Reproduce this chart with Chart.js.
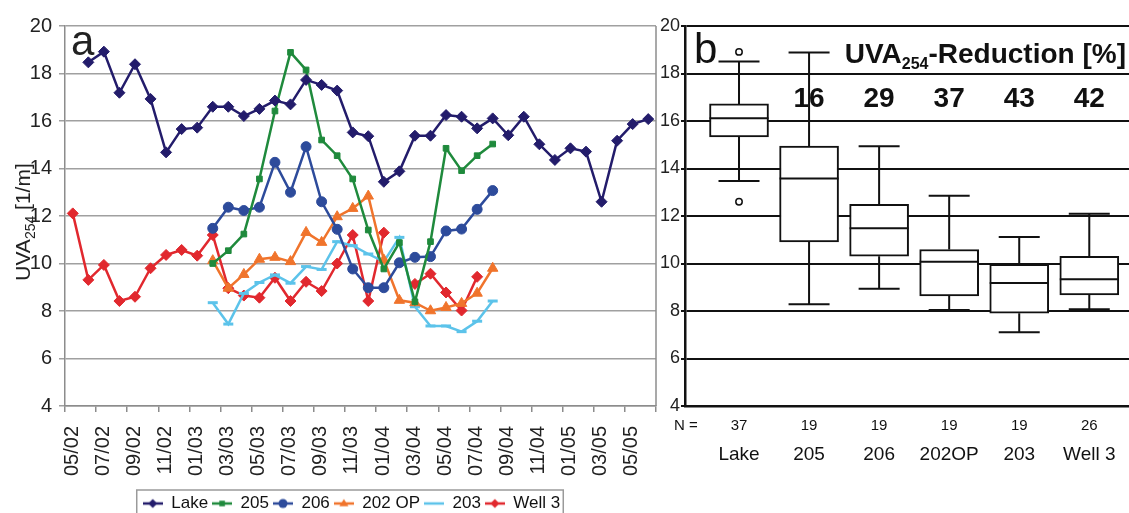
<!DOCTYPE html>
<html>
<head>
<meta charset="utf-8">
<script src="https://cdn.jsdelivr.net/npm/chart.js@4/dist/chart.umd.min.js"></script>
<style>
	html, body { margin: 0; padding: 0; background: #fff; }
	body { width: 1129px; height: 513px; overflow: hidden; position: relative; font-family: 'Liberation Sans', Arial, sans-serif; }
	#timeline { position: absolute; left: 0; top: 0; }
	#boxes { position: absolute; left: 655px; top: 0; }
</style>
</head>
<body>
<canvas id="timeline" width="664" height="522"></canvas>
<canvas id="boxes" width="474" height="513"></canvas>
<script>
// sampling months, index 0 = 05/02
const months = [
	'05/02', '06/02', '07/02', '08/02', '09/02', '10/02', '11/02', '12/02',
	'01/03', '02/03', '03/03', '04/03', '05/03', '06/03', '07/03', '08/03', '09/03', '10/03', '11/03', '12/03',
	'01/04', '02/04', '03/04', '04/04', '05/04', '06/04', '07/04', '08/04', '09/04', '10/04', '11/04', '12/04',
	'01/05', '02/05', '03/05', '04/05', '05/05', '06/05'
];
const tickLabels = ['05/02', '07/02', '09/02', '11/02', '01/03', '03/03', '05/03', '07/03', '09/03', '11/03',
	'01/04', '03/04', '05/04', '07/04', '09/04', '11/04', '01/05', '03/05', '05/05'];

const _ = null;
const lake = [_, 18.47, 18.92, 17.19, 18.39, 16.93, 14.68, 15.66, 15.72, 16.60, 16.60, 16.21, 16.51, 16.86, 16.70, 17.73, 17.52, 17.28, 15.52, 15.36,
	13.44, 13.88, 15.38, 15.38, 16.25, 16.18, 15.69, 16.11, 15.40, 16.18, 15.02, 14.36, 14.85, 14.71, 12.60, 15.17, 15.87, 16.08];
const well205 = [_, _, _, _, _, _, _, _, _, 10.00, 10.54, 11.24, 13.56, 16.42, 18.89, 18.15, 15.20, 14.54, 13.56, 11.41,
	9.77, 10.88, 8.39, 10.92, 14.85, 13.91, 14.54, 15.03];
const well206 = [_, _, _, _, _, _, _, _, _, 11.48, 12.37, 12.23, 12.37, 14.26, 13.00, 14.92, 12.60, 11.44, 9.77, 8.98,
	8.98, 10.03, 10.26, 10.29, 11.37, 11.45, 12.28, 13.07];
const well202op = [_, _, _, _, _, _, _, _, _, 10.12, 8.96, 9.54, 10.18, 10.26, 10.08, 11.31, 10.89, 11.97, 12.32, 12.84,
	10.15, 8.45, 8.35, 8.01, 8.15, 8.32, 8.75, 9.80];
const well203 = [_, _, _, _, _, _, _, _, _, 8.35, 7.45, 8.74, 9.20, 9.52, 9.17, 9.87, 9.75, 10.92, 10.75, 10.40,
	10.08, 11.10, 8.18, 7.37, 7.37, 7.13, 7.57, 8.42];
const well3 = [12.11, 9.31, 9.94, 8.42, 8.60, 9.80, 10.36, 10.57, 10.33, 11.20, 8.96, 8.65, 8.56, 9.40, 8.42, 9.23, 8.84, 10.00, 11.20, 8.42,
	11.30, _, 9.14, 9.57, 8.78, 8.02, 9.44];

// box plot statistics per site
const sites = ['Lake', '205', '206', '202OP', '203', 'Well 3'];
const sampleCounts = [37, 19, 19, 19, 19, 26];
const reduction = [null, 16, 29, 37, 43, 42];
const boxMin = [13.47, 8.28, 8.94, 8.04, 7.11, 8.07];
const boxQ1 = [15.33, 10.91, 10.31, 8.63, 7.91, 8.68];
const boxMedian = [16.12, 13.58, 11.48, 10.07, 9.18, 9.34];
const boxQ3 = [16.72, 14.94, 12.49, 10.59, 9.96, 10.30];
const boxMax = [18.51, 18.88, 14.94, 12.85, 11.12, 12.09];
const outliers = [[18.91, 12.60], [], [], [], [], []];

const FONT = "'Liberation Sans', Arial, sans-serif";

const series = [
	{ label: 'Lake', values: lake, color: '#231c6b', style: 'rectRot', radius: 5.5 },
	{ label: '205', values: well205, color: '#1f8a3c', style: 'rect', radius: 4 },
	{ label: '206', values: well206, color: '#2d4b9b', style: 'circle', radius: 5 },
	{ label: '202 OP', values: well202op, color: '#f0742c', style: 'triangle', radius: 6 },
	{ label: '203', values: well203, color: '#5cc3ea', style: 'line', radius: 5 },
	{ label: 'Well 3', values: well3, color: '#e1282e', style: 'rectRot', radius: 5.5 }
];

function drawMarker(g, style, x, y, r, color) {
	g.fillStyle = color;
	g.strokeStyle = color;
	g.beginPath();
	if (style === 'rectRot') {
		g.moveTo(x, y - r); g.lineTo(x + r, y); g.lineTo(x, y + r); g.lineTo(x - r, y);
	} else if (style === 'rect') {
		g.rect(x - r * 0.8, y - r * 0.8, r * 1.6, r * 1.6);
	} else if (style === 'circle') {
		g.arc(x, y, r, 0, Math.PI * 2);
	} else if (style === 'triangle') {
		g.moveTo(x, y - r); g.lineTo(x + r, y + r * 0.6); g.lineTo(x - r, y + r * 0.6);
	}
	g.closePath();
	g.fill();
}

function legendIcon(s) {
	const c = document.createElement('canvas');
	c.width = 20;
	c.height = 14;
	const g = c.getContext('2d');
	g.strokeStyle = s.color;
	g.lineWidth = 2.5;
	g.beginPath();
	g.moveTo(0, 7);
	g.lineTo(20, 7);
	g.stroke();
	drawMarker(g, s.style, 10, 7, s.style === 'rect' ? 3.5 : 4.5, s.color);
	return c;
}

// text with a lowered, smaller run for subscripts
function drawRich(ctx, parts, x, y, align) {
	let w = 0;
	parts.forEach(p => { ctx.font = p.font; w += ctx.measureText(p.text).width; });
	let cx = align === 'right' ? x - w : align === 'center' ? x - w / 2 : x;
	parts.forEach(p => {
		ctx.font = p.font;
		ctx.fillText(p.text, cx, y + (p.dy || 0));
		cx += ctx.measureText(p.text).width;
	});
}

const timelineDecor = {
	id: 'timelineDecor',
	afterLayout(chart) {
		// legend sits a little right of the canvas centre
		chart.legend.left += 10;
		chart.legend.right += 10;
	},
	afterDraw(chart) {
		const { ctx, chartArea } = chart;
		ctx.save();
		ctx.strokeStyle = '#8c8c8c';
		ctx.lineWidth = 1.5;
		ctx.beginPath();
		ctx.moveTo(chartArea.right, chartArea.top);
		ctx.lineTo(chartArea.right, chartArea.bottom);
		ctx.stroke();

		// legend frame
		const boxes = chart.legend.legendHitBoxes;
		const left = Math.min(...boxes.map(b => b.left)) - 6;
		const right = Math.max(...boxes.map(b => b.left + b.width)) + 3;
		const top = boxes[0].top - 5;
		ctx.strokeStyle = '#9a9a9a';
		ctx.lineWidth = 1.5;
		ctx.strokeRect(left, top, right - left, 60);

		ctx.fillStyle = '#222';
		ctx.textBaseline = 'alphabetic';
		ctx.font = '42px ' + FONT;
		ctx.fillText('a', 71, 55);

		ctx.translate(21.5, 222);
		ctx.rotate(-Math.PI / 2);
		drawRich(ctx, [
			{ text: 'UVA', font: '21px ' + FONT },
			{ text: '254', font: '14px ' + FONT, dy: 5 },
			{ text: ' [1/m]', font: '21px ' + FONT }
		], 0, 8, 'center');
		ctx.restore();
	}
};

new Chart(document.getElementById('timeline'), {
	type: 'line',
	data: {
		datasets: series.map(s => ({
			label: s.label,
			data: s.values.map((v, i) => ({ x: i + 0.5, y: v })),
			borderColor: s.color,
			backgroundColor: s.color,
			borderWidth: 2.5,
			pointStyle: s.style,
			pointRadius: s.radius,
			pointBorderWidth: s.style === 'line' ? 3 : 1,
			tension: 0,
			spanGaps: false
		}))
	},
	options: {
		responsive: false,
		animation: false,
		layout: { padding: { top: 26, left: 20, right: 1, bottom: 0 } },
		scales: {
			x: {
				type: 'linear',
				min: 0,
				max: 38,
				afterFit: s => {
					s.height = 85;
					s.paddingLeft = 0;
					s.paddingRight = 0;
				},
				grid: { drawOnChartArea: false, color: '#8c8c8c', lineWidth: 1.5, tickLength: 6 },
				border: { color: '#8c8c8c', width: 1.5 },
				ticks: {
					stepSize: 2,
					autoSkip: false,
					minRotation: 90,
					maxRotation: 90,
					padding: 14,
					labelOffset: 7,
					color: '#222',
					font: { family: FONT, size: 20 },
					callback: v => tickLabels[v / 2] || ''
				}
			},
			y: {
				min: 4,
				max: 20,
				afterFit: s => { s.width = 45; },
				grid: { color: '#a0a0a0', lineWidth: 1.5, tickLength: 6 },
				border: { color: '#8c8c8c', width: 1.5 },
				ticks: { stepSize: 2, padding: 7, color: '#222', font: { family: FONT, size: 20 } }
			}
		},
		plugins: {
			tooltip: { enabled: false },
			legend: {
				position: 'bottom',
				labels: {
					usePointStyle: true,
					pointStyleWidth: 20,
					boxHeight: 14,
					padding: 4,
					color: '#111',
					font: { family: FONT, size: 17 },
					generateLabels: chart => chart.data.datasets.map((ds, i) => ({
						text: ds.label,
						pointStyle: legendIcon(series[i]),
						fillStyle: ds.borderColor,
						strokeStyle: ds.borderColor,
						lineWidth: 0,
						hidden: false,
						datasetIndex: i,
						fontColor: '#111'
					}))
				}
			}
		}
	},
	plugins: [timelineDecor]
});

const boxDecor = {
	id: 'boxDecor',
	afterDatasetsDraw(chart) {
		const { ctx, scales: { x, y } } = chart;
		ctx.save();
		ctx.strokeStyle = '#111';
		ctx.lineWidth = 2;
		sites.forEach((site, i) => {
			const cx = x.getPixelForValue(i);
			const half = 29.5;
			const cap = 20.5;
			ctx.beginPath();
			ctx.moveTo(cx, y.getPixelForValue(boxQ3[i]));
			ctx.lineTo(cx, y.getPixelForValue(boxMax[i]));
			ctx.moveTo(cx, y.getPixelForValue(boxQ1[i]));
			ctx.lineTo(cx, y.getPixelForValue(boxMin[i]));
			ctx.moveTo(cx - cap, y.getPixelForValue(boxMax[i]));
			ctx.lineTo(cx + cap, y.getPixelForValue(boxMax[i]));
			ctx.moveTo(cx - cap, y.getPixelForValue(boxMin[i]));
			ctx.lineTo(cx + cap, y.getPixelForValue(boxMin[i]));
			ctx.moveTo(cx - half, y.getPixelForValue(boxMedian[i]));
			ctx.lineTo(cx + half, y.getPixelForValue(boxMedian[i]));
			ctx.stroke();
			outliers[i].forEach(v => {
				ctx.beginPath();
				ctx.lineWidth = 1.5;
				ctx.fillStyle = '#fff';
				ctx.arc(cx, y.getPixelForValue(v), 3.2, 0, Math.PI * 2);
				ctx.fill();
				ctx.stroke();
				ctx.lineWidth = 2;
			});
		});
		ctx.restore();
	},
	afterDraw(chart) {
		const { ctx, scales: { x } } = chart;
		ctx.save();
		ctx.fillStyle = '#111';
		ctx.textBaseline = 'alphabetic';
		ctx.font = '42px ' + FONT;
		ctx.fillText('b', 39, 63);

		drawRich(ctx, [
			{ text: 'UVA', font: 'bold 28px ' + FONT },
			{ text: '254', font: 'bold 16px ' + FONT, dy: 6 },
			{ text: '-Reduction [%]', font: 'bold 28px ' + FONT }
		], 471, 63, 'right');

		ctx.textAlign = 'center';
		ctx.font = 'bold 28px ' + FONT;
		reduction.forEach((r, i) => {
			if (r !== null) ctx.fillText(String(r), x.getPixelForValue(i), 107);
		});

		ctx.textBaseline = 'middle';
		ctx.font = '15px ' + FONT;
		ctx.textAlign = 'left';
		ctx.fillText('N =', 19, 426);
		ctx.textAlign = 'center';
		sampleCounts.forEach((n, i) => ctx.fillText(String(n), x.getPixelForValue(i), 426));
		ctx.font = '19px ' + FONT;
		sites.forEach((s, i) => ctx.fillText(s, x.getPixelForValue(i), 455));
		ctx.restore();
	}
};

new Chart(document.getElementById('boxes'), {
	type: 'bar',
	data: {
		datasets: [{
			data: sites.map((s, i) => ({ x: i, y: [boxQ1[i], boxQ3[i]] })),
			backgroundColor: '#fff',
			borderColor: '#111',
			borderWidth: 2,
			borderSkipped: false,
			barThickness: 59
		}]
	},
	options: {
		responsive: false,
		animation: false,
		layout: { padding: { top: 26, left: 0, right: 0, bottom: 0 } },
		scales: {
			x: {
				type: 'linear',
				min: -0.771,
				max: 5.567,
				offset: false,
				afterFit: s => { s.height = 107; },
				grid: { display: false, offset: false },
				border: { color: '#111', width: 2.5 },
				ticks: { display: false }
			},
			y: {
				min: 4,
				max: 20,
				afterFit: s => { s.width = 30; },
				grid: { color: '#111', lineWidth: 2, tickLength: 4 },
				border: { color: '#111', width: 2.5 },
				ticks: { stepSize: 2, padding: 1, color: '#222', font: { family: FONT, size: 18 } }
			}
		},
		plugins: {
			legend: { display: false },
			tooltip: { enabled: false }
		}
	},
	plugins: [boxDecor]
});
</script>
</body>
</html>
